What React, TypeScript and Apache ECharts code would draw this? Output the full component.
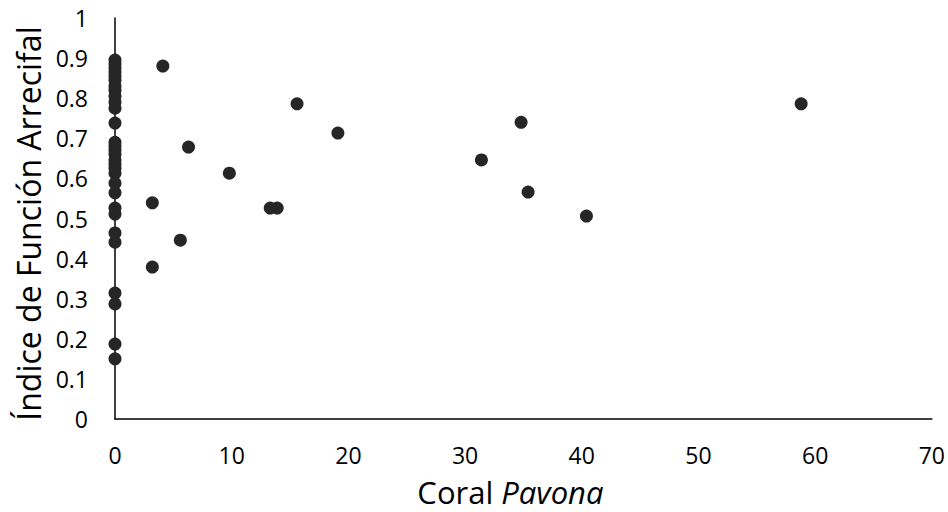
import React, { useEffect, useRef } from "react";
import * as echarts from "echarts";

const xZeroValues = [
  0.895, 0.885, 0.875, 0.865, 0.855, 0.845, 0.83, 0.82, 0.805, 0.79, 0.775,
  0.738, 0.69, 0.68, 0.67, 0.66, 0.645, 0.635, 0.625, 0.613, 0.588, 0.564,
  0.526, 0.511, 0.464, 0.441, 0.314, 0.287, 0.187, 0.15,
];
const otherX = [4.1, 5.6, 3.2, 3.2, 6.3, 9.8, 13.3, 13.9, 15.6, 19.1, 31.4, 34.8, 35.4, 40.4, 58.8];
const otherY = [0.88, 0.446, 0.539, 0.379, 0.678, 0.613, 0.526, 0.526, 0.786, 0.713, 0.646, 0.74, 0.566, 0.506, 0.786];

const xTitle = "Coral";
const xTitleItalic = "Pavona";
const yTitle = "Índice de Función Arrecifal";

export default function App() {
  const ref = useRef<HTMLDivElement>(null);
  useEffect(() => {
    if (!ref.current) return;
    const chart = echarts.init(ref.current, null, { renderer: "svg" });
    const data: number[][] = [];
    xZeroValues.forEach((v) => data.push([0, v]));
    otherX.forEach((x, i) => data.push([x, otherY[i]]));
    const font = "'Open Sans', 'Noto Sans', sans-serif";
    chart.setOption({
      animation: false,
      grid: { left: 115, right: 11, top: 18, bottom: 93, containLabel: false },
      xAxis: {
        type: "value",
        min: 0,
        max: 70,
        interval: 10,
        axisLine: { show: true, onZero: false, lineStyle: { color: "#000", width: 1.5 } },
        axisTick: { show: false },
        splitLine: { show: false },
        axisLabel: { color: "#000", fontSize: 23, fontFamily: font, margin: 24 },
        name: `${xTitle} {i|${xTitleItalic}}`,
        nameLocation: "middle",
        nameGap: 57,
        nameTextStyle: {
          color: "#000",
          fontSize: 31,
          fontFamily: font,
          padding: [0, 26, 0, 0],
          rich: { i: { fontStyle: "italic", fontSize: 31, fontFamily: font, color: "#000" } },
        },
      },
      yAxis: {
        type: "value",
        min: 0,
        max: 1,
        interval: 0.1,
        axisLine: { show: true, onZero: false, lineStyle: { color: "#000", width: 1.5 } },
        axisTick: { show: false },
        splitLine: { show: false },
        axisLabel: {
          color: "#000",
          fontSize: 23,
          fontFamily: font,
          margin: 27,
          formatter: (v: number) => String(Math.round(v * 10) / 10),
        },
        name: yTitle,
        nameLocation: "middle",
        nameGap: 68,
        nameTextStyle: { color: "#000", fontSize: 32, fontFamily: font, padding: [0, 10, 0, 0] },
      },
      series: [
        {
          type: "scatter",
          data,
          symbol: "circle",
          symbolSize: 13,
          itemStyle: { color: "#262626", opacity: 1 },
        },
      ],
    });
    return () => chart.dispose();
  }, []);
  return <div ref={ref} style={{ width: 948, height: 512, position: "absolute", left: 0, top: 0 }} />;
}
